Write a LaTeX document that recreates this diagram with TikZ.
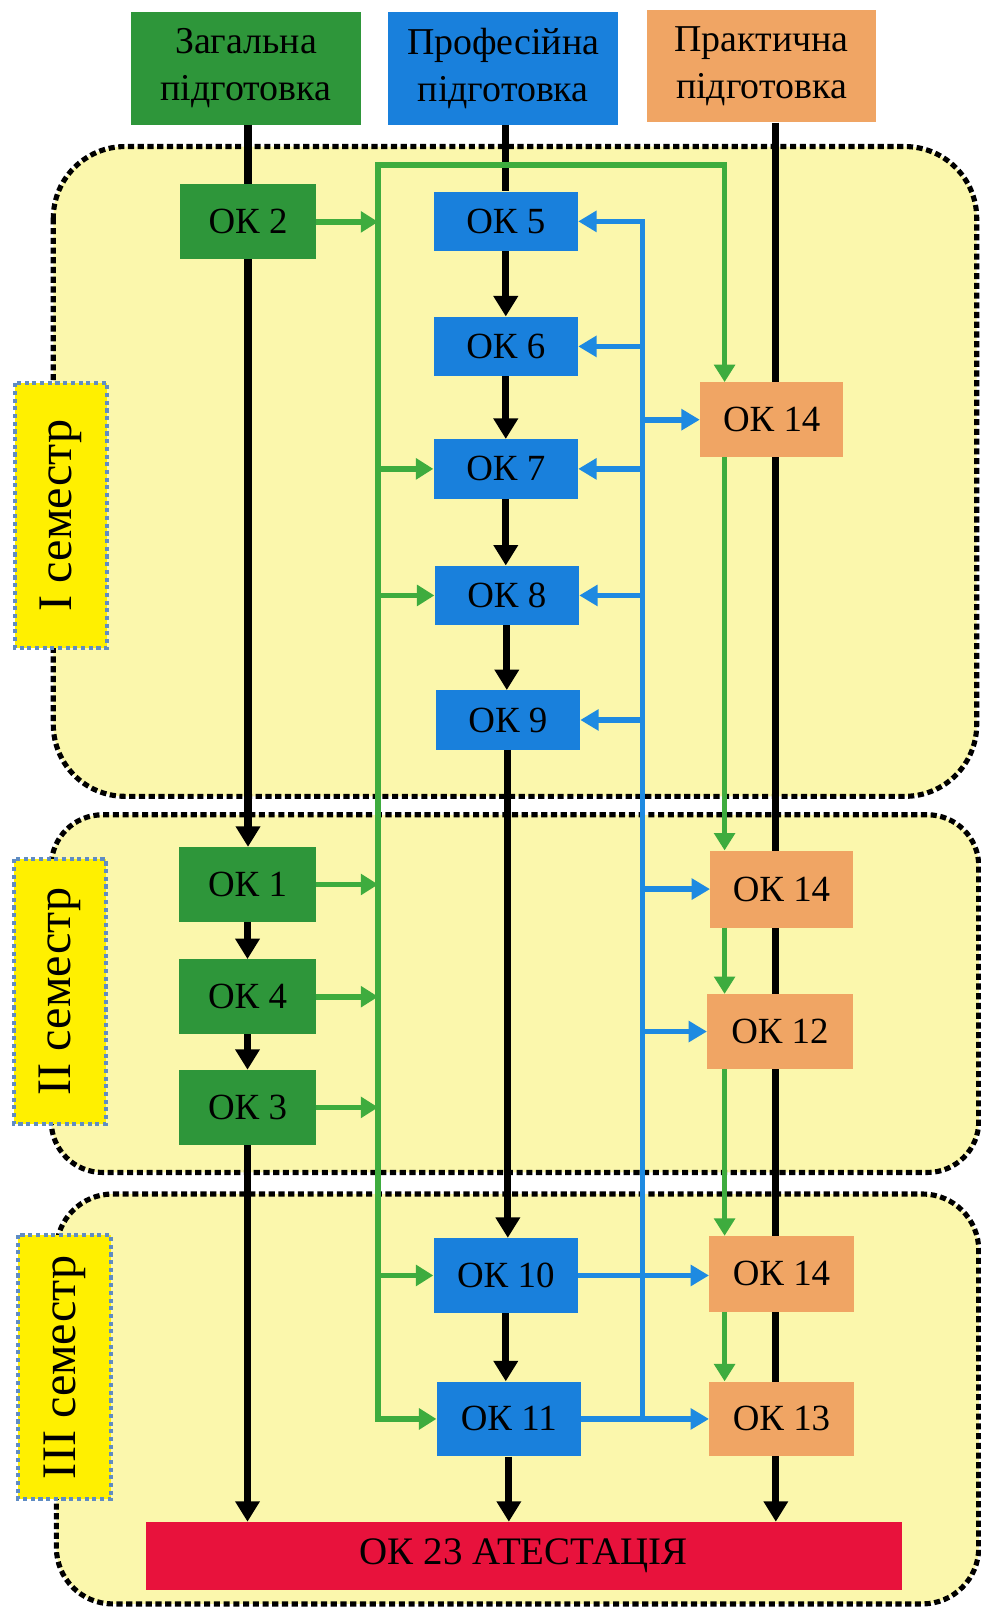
\documentclass[tikz,border=0pt]{standalone}
\usepackage{fontspec}
\setmainfont{Liberation Serif}
\usetikzlibrary{arrows.meta}
\definecolor{boxgreen}{RGB}{46,150,58}
\definecolor{boxblue}{RGB}{25,128,220}
\definecolor{boxorange}{RGB}{240,165,100}
\definecolor{boxred}{RGB}{232,18,60}
\definecolor{paleyellow}{RGB}{251,247,172}
\definecolor{labelyellow}{RGB}{255,240,0}
\definecolor{labelborder}{RGB}{95,140,195}
\definecolor{lngreen}{RGB}{62,172,62}
\definecolor{lnblue}{RGB}{30,138,225}
\begin{document}
\begin{tikzpicture}[x=1pt,y=-1pt,
  box/.style={minimum width=141pt, minimum height=58pt, inner sep=0pt,
    font=\fontsize{36}{46}\selectfont},
  gbox/.style={box, fill=boxgreen, minimum width=133pt, minimum height=73pt},
  bbox/.style={box, fill=boxblue},
  obox/.style={box, fill=boxorange, minimum height=73pt},
  hdr/.style={box, align=center, minimum width=224pt, minimum height=110pt,
    font=\fontsize{37}{46}\selectfont},
  region/.style={draw=black, line width=5pt, dash pattern=on 6pt off 3.5pt,
    fill=paleyellow, rounded corners=#1},
  semlabel/.style={draw=labelborder, line width=4pt, dash pattern=on 4pt off 3.5pt,
    fill=labelyellow, minimum width=258pt, minimum height=90pt, inner sep=0pt,
    rotate=90, font=\fontsize{47}{50}\selectfont},
  blkline/.style={draw=black, line width=7pt},
  blk/.style={blkline, -{Triangle[length=20pt,width=23pt]}},
  grn/.style={draw=lngreen, line width=5.5pt, -{Triangle[length=17pt,width=20pt]}},
  blu/.style={draw=lnblue, line width=5.5pt, -{Triangle[length=18pt,width=20pt]}}
]
\useasboundingbox (0,0) rectangle (957,1568);
\fill[white] (0,0) rectangle (957,1568);

% semester regions
\draw[region=70pt] (52,143) rectangle (953,777);
\draw[region=50pt] (50,795) rectangle (955,1144);
\draw[region=55pt] (55,1165) rectangle (955,1565);

% semester labels
\node[semlabel] (s1) at (59.6,503) {I семестр};
\node[semlabel] (s2) at (58.5,967.5) {II семестр};
\node[semlabel] (s3) at (63,1334) {III семестр};

% headers and final box
\node[hdr, fill=boxgreen] (zag) at (240,66.5) {Загальна\\підготовка};
\node[hdr, fill=boxblue] (prof) at (491,66.5) {Професійна\\підготовка};
\node[hdr, fill=boxorange] (prak) at (743,64.5) {Практична\\підготовка};
\node[box, fill=boxred, minimum width=738pt, minimum height=66pt,
  font=\fontsize{38}{46}\selectfont] (red) at (511,1518) {ОК 23 АТЕСТАЦІЯ};

% column 3 line (behind orange boxes)
\coordinate (c3) at (757,0);
\draw[blk] (prak.south -| c3) -- (red.north -| c3);

% green column
\node[gbox] (ok2) at (242,216.5) {ОК 2};
\node[gbox] (ok1) at (241.5,863) {ОК 1};
\node[gbox] (ok4) at (241.5,972.5) {ОК 4};
\node[gbox] (ok3) at (241.5,1080.5) {ОК 3};

% blue column
\node[bbox] (ok5) at (493.5,216) {ОК 5};
\node[bbox] (ok6) at (493.5,338) {ОК 6};
\node[bbox] (ok7) at (493.5,457.5) {ОК 7};
\node[bbox] (ok8) at (494.5,581) {ОК 8};
\node[bbox] (ok9) at (495.5,702.5) {ОК 9};
\node[bbox, minimum height=73pt] (ok10) at (493.5,1244.5) {ОК 10};
\node[bbox, minimum height=73pt] (ok11) at (496.5,1384.5) {ОК 11};

% orange column
\node[obox, minimum width=140pt] (ok14a) at (753,409.5) {ОК 14};
\node[obox, minimum width=139pt, minimum height=75pt] (ok14b) at (762.5,867.5) {ОК 14};
\node[obox, minimum width=142pt] (ok12) at (761,1006.5) {ОК 12};
\node[obox, minimum height=74pt] (ok14c) at (762.5,1243) {ОК 14};
\node[obox] (ok13) at (762.5,1384.5) {ОК 13};

% black connectors
\draw[blkline] (zag.south -| ok2.north) -- (ok2.north);
\draw[blk] (ok2.south) -- (ok1.north -| ok2.south);
\draw[blk] (ok1.south) -- (ok4.north);
\draw[blk] (ok4.south) -- (ok3.north);
\draw[blk] (ok3.south) -- (red.north -| ok3.south);
\draw[blkline] (prof.south -| ok5.north) -- (ok5.north);
\draw[blk] (ok5.south) -- (ok6.north);
\draw[blk] (ok6.south) -- (ok7.north);
\draw[blk] (ok7.south) -- (ok8.north -| ok7.south);
\draw[blk] (ok8.south) -- (ok9.north -| ok8.south);
\draw[blk] (ok9.south) -- (ok10.north -| ok9.south);
\draw[blk] (ok10.south) -- (ok11.north -| ok10.south);
\draw[blk] (ok11.south) -- (red.north -| ok11.south);

% green connectors
\coordinate (gtop) at (369,161);
\coordinate (gtopR) at (707,161);
\draw[grn, {Triangle[length=17pt,width=20pt]}-{Triangle[length=17pt,width=20pt]}]
  (ok11.west) -- (ok11.west -| gtop) -- (gtop) -- (gtopR) -- (ok14a.north -| gtopR);
\draw[grn] (ok2.east) -- (ok2.east -| gtop);
\draw[grn] (ok1.east) -- (ok1.east -| gtop);
\draw[grn] (ok4.east) -- (ok4.east -| gtop);
\draw[grn] (ok3.east) -- (ok3.east -| gtop);
\draw[grn] (ok7.west -| gtop) -- (ok7.west);
\draw[grn] (ok8.west -| gtop) -- (ok8.west);
\draw[grn] (ok10.west -| gtop) -- (ok10.west);
\draw[grn] (ok14a.south -| gtopR) -- (ok14b.north -| gtopR);
\draw[grn] (ok14b.south -| gtopR) -- (ok12.north -| gtopR);
\draw[grn] (ok12.south -| gtopR) -- (ok14c.north -| gtopR);
\draw[grn] (ok14c.south -| gtopR) -- (ok13.north -| gtopR);

% blue connectors
\coordinate (bx) at (627,0);
\draw[blu] (ok11.east) -- (ok13.west);
\draw[blu] (ok11.east -| bx) -- (ok5.east -| bx) -- (ok5.east);
\draw[blu] (ok6.east -| bx) -- (ok6.east);
\draw[blu] (ok7.east -| bx) -- (ok7.east);
\draw[blu] (ok8.east -| bx) -- (ok8.east);
\draw[blu] (ok9.east -| bx) -- (ok9.east);
\draw[blu] (ok14a.west -| bx) -- (ok14a.west);
\draw[blu] (ok14b.west -| bx) -- (ok14b.west);
\draw[blu] (ok12.west -| bx) -- (ok12.west);
\draw[blu] (ok10.east) -- (ok10.east -| ok14c.west);
\end{tikzpicture}
\end{document}
